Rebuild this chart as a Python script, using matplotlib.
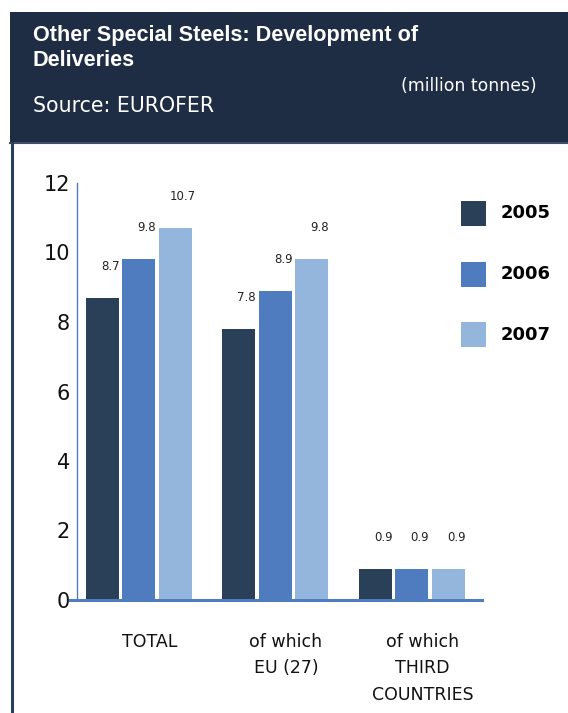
import matplotlib
matplotlib.use("Agg")
import matplotlib.pyplot as plt
import numpy as np
from matplotlib.patches import Rectangle
from matplotlib.lines import Line2D

categories = ["TOTAL", "of which\nEU (27)", "of which\nTHIRD\nCOUNTRIES"]
years = ["2005", "2006", "2007"]
values_2005 = [8.7, 7.8, 0.9]
values_2006 = [9.8, 8.9, 0.9]
values_2007 = [10.7, 9.8, 0.9]
yticks = [0, 2, 4, 6, 8, 10, 12]

series = [values_2005, values_2006, values_2007]
colors = ["#2a3f58", "#4f7cbf", "#95b6dc"]
header_color = "#1e2d44"

W, H = 568, 713
fig = plt.figure(figsize=(W / 100, H / 100), dpi=100)
fig.patch.set_facecolor("white")

def fx(px):
    return px / W

def fy(py):
    return 1 - py / H

# header band
fig.patches.append(Rectangle((fx(10), fy(142)), fx(558), 130 / H,
                             transform=fig.transFigure, facecolor=header_color,
                             edgecolor="none", zorder=0))
fig.lines.append(Line2D([fx(10), 1], [fy(143), fy(143)], transform=fig.transFigure,
                        color="#3e5068", lw=1.5))
# left border of the panel
fig.lines.append(Line2D([fx(11.5), fx(11.5)], [fy(143), 0], transform=fig.transFigure,
                        color="#2a3f58", lw=2.2))

head_font = "Liberation Sans"
fig.text(fx(33), fy(36), "Other Special Steels: Development of", color="white",
         fontsize=15.6, fontweight="bold", va="center", ha="left", family=head_font)
fig.text(fx(33), fy(60), "Deliveries", color="white",
         fontsize=15.6, fontweight="bold", va="center", ha="left", family=head_font)
fig.text(fx(537), fy(86), "(million tonnes)", color="white",
         fontsize=12.4, va="center", ha="right")
fig.text(fx(33), fy(106), "Source: EUROFER", color="white",
         fontsize=14.8, va="center", ha="left")

# plot area
ax_left, ax_right, ax_top, ax_bottom = 77, 482, 183, 600
ax = fig.add_axes([fx(ax_left), fy(ax_bottom), fx(ax_right - ax_left), (ax_bottom - ax_top) / H])
ax.set_facecolor("none")

x = np.arange(len(categories))
unit = 136.5
width = 33 / unit
step = 36.5 / unit
for i, (vals, c) in enumerate(zip(series, colors)):
    pos = x + (i - 1) * step
    ax.bar(pos, vals, width=width, color=c, zorder=2)
    for p, v in zip(pos, vals):
        ax.annotate(f"{v:.1f}", (p, v), xytext=(5.5, 18), textcoords="offset points",
                    ha="center", va="bottom", fontsize=8.5, color="#222222")

ax.set_xlim(-0.454, 2.513)
ax.set_ylim(0, 12)
ax.set_yticks(yticks)
ax.set_yticklabels([str(t) for t in yticks], fontsize=15, color="#111111")
ax.tick_params(axis="y", length=0, pad=5)
ax.set_xticks([])
for s in ["top", "right", "bottom"]:
    ax.spines[s].set_visible(False)
ax.spines["left"].set_color("#4f7cbf")
ax.spines["left"].set_linewidth(1.0)

# baseline extends slightly left of the value axis
fig.lines.append(Line2D([fx(70), fx(482)], [fy(600), fy(600)], transform=fig.transFigure,
                        color="#4f7cbf", lw=2.2, zorder=5))

# category labels
for xi, label in zip(x, categories):
    ax.annotate(label, (xi, 0), xytext=(7.5, -24), textcoords="offset points",
                ha="center", va="top", fontsize=12.5, color="#111111",
                linespacing=1.58, annotation_clip=False)

# legend
for j, (yr, c) in enumerate(zip(years, colors)):
    ytop = 201 + j * 60.5
    fig.patches.append(Rectangle((fx(461), fy(ytop + 25)), fx(25), 25 / H,
                                 transform=fig.transFigure, facecolor=c, edgecolor="none"))
    fig.text(fx(501), fy(ytop + 12.5), yr, fontsize=13, fontweight="bold",
             color="black", va="center", ha="left")

fig.savefig("out.png", dpi=100)
